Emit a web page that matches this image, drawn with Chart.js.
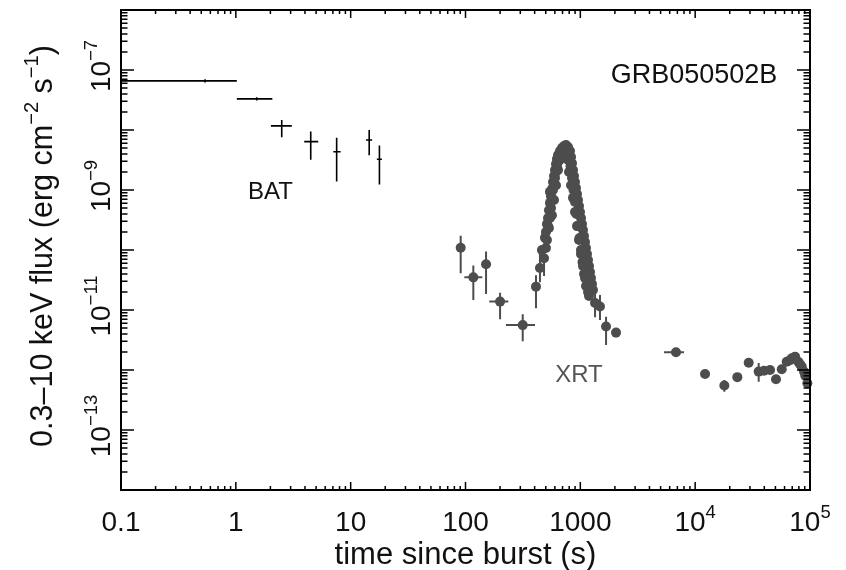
<!DOCTYPE html>
<html>
<head>
<meta charset="utf-8">
<script src="https://cdn.jsdelivr.net/npm/chart.js@4.4.0/dist/chart.umd.min.js"></script>
<style>
  html, body { margin: 0; padding: 0; background: #fff; }
  #wrap { width: 846px; height: 570px; position: relative; }
</style>
</head>
<body>
<div id="wrap"><canvas id="lc"></canvas></div>
<script>
// BAT (black crosses)
const batTime    = [0.54, 1.52, 2.51, 4.49, 7.55, 14.5, 17.8];
const batTimeLo  = [0.1, 1.02, 2.02, 3.94, 7.06, 13.6, 16.9];
const batTimeHi  = [1.02, 2.08, 3.07, 5.22, 8.18, 15.4, 18.7];
const batFlux    = [6.6e-8, 3.3e-8, 1.17e-8, 6.4e-9, 4.35e-9, 6.8e-9, 3.25e-9];
const batFluxLo  = [6.2e-8, 3.1e-8, 7.6e-9, 3.2e-9, 1.38e-9, 3.8e-9, 1.24e-9];
const batFluxHi  = [7.0e-8, 3.5e-8, 1.47e-8, 9.4e-9, 7.4e-9, 1.0e-8, 5.5e-9];

// XRT points with visible error bars
const xrtTime   = [90.8, 117, 151, 200, 315, 411, 445, 483, 1239, 1264, 1343, 1483, 1675, 2046, 6808, 12190, 17950, 35730];
const xrtTimeLo = [85, 97.7, 145, 161, 225, 400, 435, 472, 1225, 1250, 1330, 1470, 1655, 1950, 5356, 11500, 17400, 35000];
const xrtTimeHi = [97, 140, 157, 236, 403, 422, 455, 494, 1253, 1278, 1356, 1496, 1695, 2150, 8000, 12900, 18500, 36500];
const xrtFlux   = [1.09e-10, 3.5e-11, 5.8e-11, 1.38e-11, 5.6e-12, 2.45e-11, 5.0e-11, 7.3e-11, 3.4e-11, 2.7e-11, 1.31e-11, 1.14e-11, 5.3e-12, 4.2e-12, 1.97e-12, 8.6e-13, 5.5e-13, 9.4e-13];
const xrtFluxLo = [4.1e-11, 1.47e-11, 1.85e-11, 7.0e-12, 3.0e-12, 1.07e-11, 2.9e-11, 3.7e-11, 2.0e-11, 1.5e-11, 7.6e-12, 6.8e-12, 2.6e-12, 3.5e-12, 1.85e-12, 8.0e-13, 4.35e-13, 6.4e-13];
const xrtFluxHi = [1.73e-10, 5.5e-11, 9.4e-11, 1.94e-11, 8.5e-12, 3.8e-11, 8.6e-11, 1.08e-10, 5.0e-11, 4.0e-11, 2.42e-11, 1.78e-11, 7.7e-12, 5.0e-12, 2.1e-12, 9.2e-13, 6.8e-13, 1.31e-12];

// XRT points whose bars hide under the dots (the flare and the late tail)
const xrtDotTime = [
  463, 492, 502, 512, 523, 523, 533, 544, 555, 544, 566, 578, 590, 602, 614, 626, 639, 665, 692, 721, 750,
  566, 590, 614, 639, 665,
  502, 512, 533, 544, 555, 566, 578, 590, 602, 614, 626, 639, 652, 678, 706, 735, 765, 750, 781,
  781, 813, 830, 846, 863, 881, 899, 917, 935, 954, 974, 993, 1013, 1034, 1055, 1076, 1098, 1120, 1143, 1166, 1190, 1214, 1289,
  797, 821, 846, 872, 899, 926, 954, 984, 1013, 1044, 1076, 1120, 1190,
  781, 797, 830, 863, 899, 935, 974, 1013, 1055, 1098, 1166,
  23290, 29250, 39810, 44870, 50580, 56750, 62690, 67000, 69340, 74130, 79070, 82000, 84720, 88720, 91000, 94840];
const xrtDotFlux = [
  1.0e-10, 1.6e-10, 2.0e-10, 2.7e-10, 3.4e-10, 2.5e-10, 4.6e-10, 6.1e-10, 7.9e-10, 9.3e-10, 1.04e-9, 1.36e-9, 1.71e-9, 2.15e-9, 2.71e-9, 3.29e-9, 3.83e-9, 4.47e-9, 5.0e-9, 5.4e-9, 5.6e-9,
  3.8e-10, 6.8e-10, 1.2e-9, 2.15e-9, 3.2e-9,
  1.08e-10, 1.47e-10, 2.33e-10, 3.41e-10, 5.0e-10, 7.36e-10, 1.0e-9, 1.26e-9, 1.58e-9, 2.0e-9, 2.51e-9, 2.93e-9, 3.41e-9, 4.3e-9, 4.83e-9, 4.64e-9, 4.64e-9, 3.83e-9, 3.69e-9,
  5.2e-9, 4.47e-9, 3.55e-9, 2.8e-9, 2.15e-9, 1.71e-9, 1.36e-9, 1.08e-9, 8.6e-10, 6.8e-10, 5.4e-10, 4.3e-10, 3.4e-10, 2.7e-10, 2.15e-10, 1.71e-10, 1.36e-10, 1.08e-10, 8.6e-11, 6.8e-11, 5.4e-11, 4.3e-11, 2.15e-11,
  4.14e-9, 2.51e-9, 1.58e-9, 1.0e-9, 6.3e-10, 3.98e-10, 2.51e-10, 1.58e-10, 1.0e-10, 6.3e-11, 3.98e-11, 2.51e-11, 1.71e-11,
  3.2e-9, 2.0e-9, 1.2e-9, 7.4e-10, 4.3e-10, 2.5e-10, 1.47e-10, 8.6e-11, 5.4e-11, 3.4e-11, 2.0e-11,
  7.6e-13, 1.32e-12, 9.7e-13, 1.0e-12, 7.0e-13, 1.03e-12, 1.37e-12, 1.45e-12, 1.57e-12, 1.67e-12, 1.37e-12, 1.25e-12, 1.14e-12, 9.4e-13, 8.0e-13, 6.0e-13];

// axis ticks: value -> [base, exponent]
const xTickValues = [0.1, 1, 10, 100, 1000, 1e4, 1e5];
const xTickLabels = [['0.1', ''], ['1', ''], ['10', ''], ['100', ''], ['1000', ''], ['10', '4'], ['10', '5']];
const yTickValues = [1e-7, 1e-9, 1e-11, 1e-13];
const yTickLabels = [['10', '\u22127'], ['10', '\u22129'], ['10', '\u221211'], ['10', '\u221213']];

const FONT = "'Liberation Sans', Arial, Helvetica, sans-serif";

function pts(t, tlo, thi, f, flo, fhi) {
  return t.map((x, i) => ({
    x: x, y: f[i],
    xMin: tlo ? tlo[i] : null, xMax: thi ? thi[i] : null,
    yMin: flo ? flo[i] : null, yMax: fhi ? fhi[i] : null
  }));
}

// draw text made of [text, isSuperscript] pieces
function richText(ctx, parts, x, y, size, align) {
  let w = 0;
  const widths = parts.map(p => {
    ctx.font = (p[1] ? size * 0.66 : size) + 'px ' + FONT;
    const m = ctx.measureText(p[0]).width;
    w += m;
    return m;
  });
  let cx = align === 'center' ? x - w / 2 : (align === 'right' ? x - w : x);
  parts.forEach((p, i) => {
    ctx.font = (p[1] ? size * 0.66 : size) + 'px ' + FONT;
    ctx.fillText(p[0], cx, p[1] ? y - size * 0.45 : y);
    cx += widths[i];
  });
}

const errorBars = {
  id: 'errorBars',
  beforeDatasetsDraw(chart) {
    const ctx = chart.ctx, xs = chart.scales.x, ys = chart.scales.y;
    ctx.save();
    chart.data.datasets.forEach(ds => {
      ctx.strokeStyle = ds.barColor;
      ctx.lineWidth = ds.barWidth;
      ds.data.forEach(p => {
        const px = xs.getPixelForValue(p.x), py = ys.getPixelForValue(p.y);
        ctx.beginPath();
        if (p.xMin != null) {
          ctx.moveTo(xs.getPixelForValue(p.xMin), py);
          ctx.lineTo(xs.getPixelForValue(p.xMax), py);
        }
        if (p.yMin != null) {
          ctx.moveTo(px, ys.getPixelForValue(p.yMin));
          ctx.lineTo(px, ys.getPixelForValue(p.yMax));
        }
        ctx.stroke();
      });
    });
    ctx.restore();
  }
};

const frameAndText = {
  id: 'frameAndText',
  afterDraw(chart) {
    const ctx = chart.ctx, xs = chart.scales.x, ys = chart.scales.y;
    const a = chart.chartArea;
    ctx.save();
    ctx.strokeStyle = '#000';
    ctx.lineWidth = 2;
    ctx.strokeRect(a.left, a.top, a.right - a.left, a.bottom - a.top);

    // log tick marks, inside, on all four sides
    ctx.lineWidth = 1.5;
    ctx.beginPath();
    for (let e = -1; e <= 5; e++) {
      for (let m = 1; m <= 9; m++) {
        const v = m * Math.pow(10, e);
        if (v < xs.min * 0.999 || v > xs.max * 1.001) continue;
        const px = xs.getPixelForValue(v);
        const len = m === 1 ? 8 : 4;
        ctx.moveTo(px, a.bottom); ctx.lineTo(px, a.bottom - len);
        ctx.moveTo(px, a.top); ctx.lineTo(px, a.top + len);
      }
    }
    for (let e = -14; e <= -6; e++) {
      for (let m = 1; m <= 9; m++) {
        const v = m * Math.pow(10, e);
        if (v < ys.min * 0.999 || v > ys.max * 1.001) continue;
        const py = ys.getPixelForValue(v);
        const len = m === 1 ? 13 : 6.5;
        ctx.moveTo(a.left, py); ctx.lineTo(a.left + len, py);
        ctx.moveTo(a.right, py); ctx.lineTo(a.right - len, py);
      }
    }
    ctx.stroke();

    ctx.fillStyle = '#111';
    ctx.textBaseline = 'alphabetic';
    ctx.textAlign = 'left';
    // x tick labels
    xTickValues.forEach((v, i) => {
      const l = xTickLabels[i];
      richText(ctx, [[l[0], false], [l[1], true]], xs.getPixelForValue(v), 531, 28, 'center');
    });
    richText(ctx, [['time since burst (s)', false]], (a.left + a.right) / 2, 564, 31, 'center');

    // y tick labels, rotated
    yTickValues.forEach((v, i) => {
      const l = yTickLabels[i];
      ctx.save();
      ctx.translate(110, ys.getPixelForValue(v) - 4);
      ctx.rotate(-Math.PI / 2);
      richText(ctx, [[l[0], false], [l[1], true]], 0, 0, 28, 'center');
      ctx.restore();
    });
    ctx.save();
    ctx.translate(52, (a.top + a.bottom) / 2 - 4);
    ctx.rotate(-Math.PI / 2);
    richText(ctx, [['0.3\u201310 keV flux (erg cm', false], ['\u22122', true], [' s', false], ['\u22121', true], [')', false]], 0, 0, 30.5, 'center');
    ctx.restore();

    // annotations
    richText(ctx, [['GRB050502B', false]], xs.getPixelForValue(9770), ys.getPixelForValue(8.9e-8) + 10, 27, 'center');
    richText(ctx, [['BAT', false]], xs.getPixelForValue(2.0), ys.getPixelForValue(1e-9) + 9, 24, 'center');
    ctx.fillStyle = '#555';
    richText(ctx, [['XRT', false]], xs.getPixelForValue(972), ys.getPixelForValue(8.9e-13) + 9, 24, 'center');
    ctx.restore();
  }
};

new Chart(document.getElementById('lc'), {
  type: 'scatter',
  data: {
    datasets: [
      {
        label: 'BAT',
        data: pts(batTime, batTimeLo, batTimeHi, batFlux, batFluxLo, batFluxHi),
        pointRadius: 0,
        barColor: '#000',
        barWidth: 1.6
      },
      {
        label: 'XRT',
        data: pts(xrtTime, xrtTimeLo, xrtTimeHi, xrtFlux, xrtFluxLo, xrtFluxHi),
        pointRadius: 5,
        pointBackgroundColor: '#4d4d4d',
        pointBorderWidth: 0,
        barColor: '#4d4d4d',
        barWidth: 2,
        clip: false
      },
      {
        label: 'XRT flare',
        data: pts(xrtDotTime, null, null, xrtDotFlux, null, null),
        pointRadius: 5,
        pointBackgroundColor: '#4d4d4d',
        pointBorderWidth: 0,
        barColor: '#4d4d4d',
        barWidth: 2,
        clip: false
      }
    ]
  },
  options: {
    responsive: true,
    maintainAspectRatio: false,
    animation: false,
    layout: { padding: { left: 121, right: 36, top: 10, bottom: 80 } },
    plugins: { legend: { display: false }, tooltip: { enabled: false } },
    scales: {
      x: { type: 'logarithmic', min: 0.1, max: 1e5, display: false },
      y: { type: 'logarithmic', min: 1e-14, max: 1e-6, display: false }
    }
  },
  plugins: [errorBars, frameAndText]
});
</script>
</body>
</html>
